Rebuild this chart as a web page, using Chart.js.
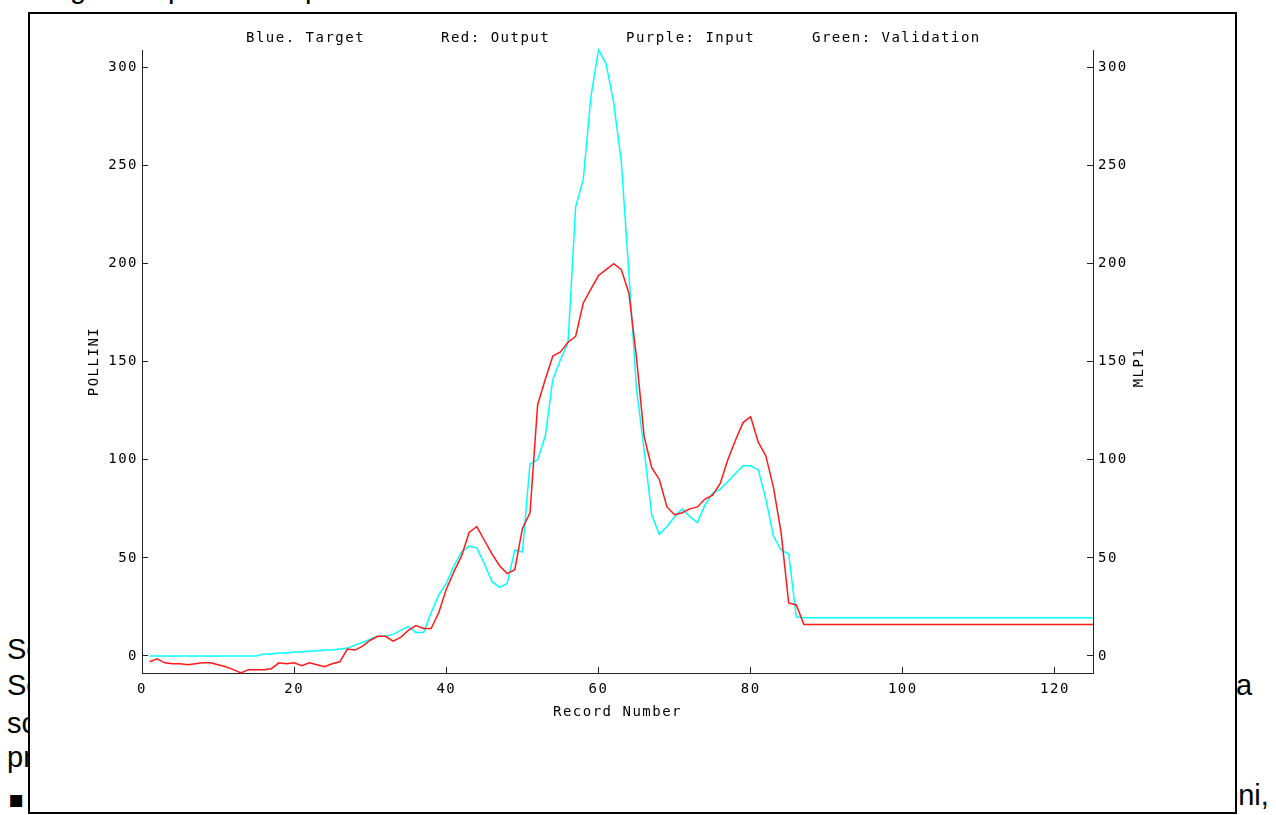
<!DOCTYPE html>
<html>
<head>
<meta charset="utf-8">
<script src="https://cdn.jsdelivr.net/npm/chart.js@4.4.0/dist/chart.umd.min.js"></script>
<style>
    html, body { margin: 0; padding: 0; background: #fff; overflow: hidden; }
    body { width: 1276px; height: 815px; position: relative; font-family: "Liberation Sans", Arial, sans-serif; font-size: 29px; line-height: 29px; color: #000; }
    .txt { position: absolute; white-space: pre; }
    .bullet { font-family: "DejaVu Sans", sans-serif; font-size: 24px; }
    #box { position: absolute; left: 28px; top: 12px; width: 1205px; height: 798px; border: 2px solid #000; background: #fff; }
    canvas { display: block; }
</style>
</head>
<body>
<span class="txt" style="left:70px; top:-26px">g</span>
<span class="txt" style="left:168px; top:-26px">p</span>
<span class="txt" style="left:305px; top:-26px">p</span>
<span class="txt" style="left:7px; top:635px">Se</span>
<span class="txt" style="left:7px; top:671px">Se</span>
<span class="txt" style="left:7px; top:709px">sc</span>
<span class="txt" style="left:7px; top:743px">pr</span>
<span class="txt bullet" style="left:8px; top:785px">▪</span>
<span class="txt" style="left:1236px; top:671px">a</span>
<span class="txt" style="left:1222px; top:781px">oni,</span>
<div id="box"><canvas id="pollenChart" width="1205" height="798"></canvas></div>
<script>
// record numbers on the x axis
const recordNumbers = Array.from({ length: 125 }, (_, i) => i + 1);

// Blue (shown cyan): target pollen counts
const targetPollini = [
    0, 0, 0, 0, 0, 0, 0, 0, 0, 0, 0, 0, 0, 0, 0,
    1, 1, 1.5, 1.5, 2, 2, 2.5, 2.5, 3, 3, 3.5, 4, 5.5, 7, 8.5,
    10, 10, 11, 13, 15, 12, 12, 22, 31, 37,
    46, 53, 56, 55, 47, 38, 35, 37, 54, 53,
    98, 100, 112, 141, 151, 160, 229, 243, 285, 309,
    302, 282, 252, 195, 136, 105, 72, 62, 66, 71,
    75, 71, 68, 77, 83, 85, 89, 93, 97, 97,
    95, 80, 61, 54, 52, 20,
    19.5, 19.5, 19.5, 19.5, 19.5, 19.5, 19.5, 19.5, 19.5, 19.5,
    19.5, 19.5, 19.5, 19.5, 19.5, 19.5, 19.5, 19.5, 19.5, 19.5,
    19.5, 19.5, 19.5, 19.5, 19.5, 19.5, 19.5, 19.5, 19.5, 19.5,
    19.5, 19.5, 19.5, 19.5, 19.5, 19.5, 19.5, 19.5, 19.5
];

// Red: MLP1 output
const outputMlp = [
    -3, -1.5, -3.5, -4, -4, -4.5, -4, -3.5, -3.5, -4.5,
    -5.5, -7, -8.7, -7, -7, -7, -6.5, -3.5, -4, -3.5,
    -5, -3.5, -4.5, -5.5, -4, -3, 3.5, 3, 5, 8,
    10, 10, 7.5, 9.5, 13, 15.5, 14, 14, 22, 34,
    43, 51, 63, 66, 59, 52, 46, 42, 44, 65,
    73, 128, 141, 153, 155, 160, 163, 180, 187, 194,
    197, 200, 197, 185, 152, 112, 96, 90, 76, 72,
    73, 75, 76, 80, 82, 88, 100, 110, 119, 122,
    109, 102, 86, 63, 27, 26, 16,
    16, 16, 16, 16, 16, 16, 16, 16, 16, 16,
    16, 16, 16, 16, 16, 16, 16, 16, 16, 16,
    16, 16, 16, 16, 16, 16, 16, 16, 16, 16,
    16, 16, 16, 16, 16, 16, 16, 16
];

const headerLabels = ['Blue. Target', 'Red: Output', 'Purple: Input', 'Green: Validation'];
const yMin = -8.7;
const yMax = 309;

const inkColor = '#000';
const axisColor = '#222';
const monoFont = { family: 'DejaVu Sans Mono', size: 14 };

// text that Chart.js has no slot for: the header line and the right axis title
const plotText = {
    id: 'plotText',
    beforeDraw(chart) {
        chart.ctx.letterSpacing = '1.5px';
    },
    afterDraw(chart) {
        const ctx = chart.ctx;
        const area = chart.chartArea;
        const offsets = [104, 299, 484, 670];
        ctx.save();
        ctx.font = '14px "DejaVu Sans Mono"';
        ctx.fillStyle = inkColor;
        ctx.textBaseline = 'middle';
        ctx.textAlign = 'left';
        headerLabels.forEach((t, i) => ctx.fillText(t, area.left + offsets[i], area.top - 12));
        ctx.translate(area.right + 46, (area.top + area.bottom) / 2 + 6);
        ctx.rotate(-Math.PI / 2);
        ctx.textAlign = 'center';
        ctx.fillText('MLP1', 0, 0);
        ctx.restore();
    }
};

function axisGrid() {
    return { drawOnChartArea: false, drawTicks: true, tickLength: -6, color: axisColor };
}

const ctx = document.getElementById('pollenChart').getContext('2d');
new Chart(ctx, {
    type: 'line',
    data: {
        labels: recordNumbers,
        datasets: [{
            label: 'Output',
            data: outputMlp,
            borderColor: '#ff1a1a',
            borderWidth: 1.5,
            pointRadius: 0,
            tension: 0,
            clip: 3,
            order: 0
        }, {
            label: 'Target',
            data: targetPollini,
            borderColor: '#00ffff',
            borderWidth: 1.5,
            pointRadius: 0,
            tension: 0,
            clip: 3,
            order: 1
        }]
    },
    options: {
        responsive: false,
        animation: false,
        events: [],
        layout: { padding: { top: 36, left: 0, right: 0, bottom: 0 } },
        plugins: {
            legend: { display: false },
            title: { display: false },
            tooltip: { enabled: false }
        },
        scales: {
            x: {
                type: 'linear',
                min: 0,
                max: 125,
                afterFit(s) { s.height = 139; },
                border: { display: true, color: axisColor, width: 1 },
                grid: axisGrid(),
                ticks: { stepSize: 20, includeBounds: false, padding: 14, maxRotation: 0, color: inkColor, font: monoFont },
                title: { display: true, text: 'Record Number', color: inkColor, font: monoFont, padding: { top: 0, bottom: 91 } }
            },
            y: {
                position: 'left',
                min: yMin,
                max: yMax,
                afterFit(s) { s.width = 112; },
                border: { display: true, color: axisColor, width: 1 },
                grid: axisGrid(),
                ticks: { stepSize: 50, includeBounds: false, padding: 10, color: inkColor, font: monoFont },
                title: { display: true, text: 'POLLINI', color: inkColor, font: monoFont, padding: { top: 56, bottom: 0 } }
            },
            y2: {
                position: 'right',
                display: true,
                min: yMin,
                max: yMax,
                afterFit(s) { s.width = 142; },
                border: { display: true, color: axisColor, width: 1 },
                grid: axisGrid(),
                ticks: { stepSize: 50, includeBounds: false, padding: 11, color: inkColor, font: monoFont }
            }
        }
    },
    plugins: [plotText]
});
</script>
</body>
</html>
